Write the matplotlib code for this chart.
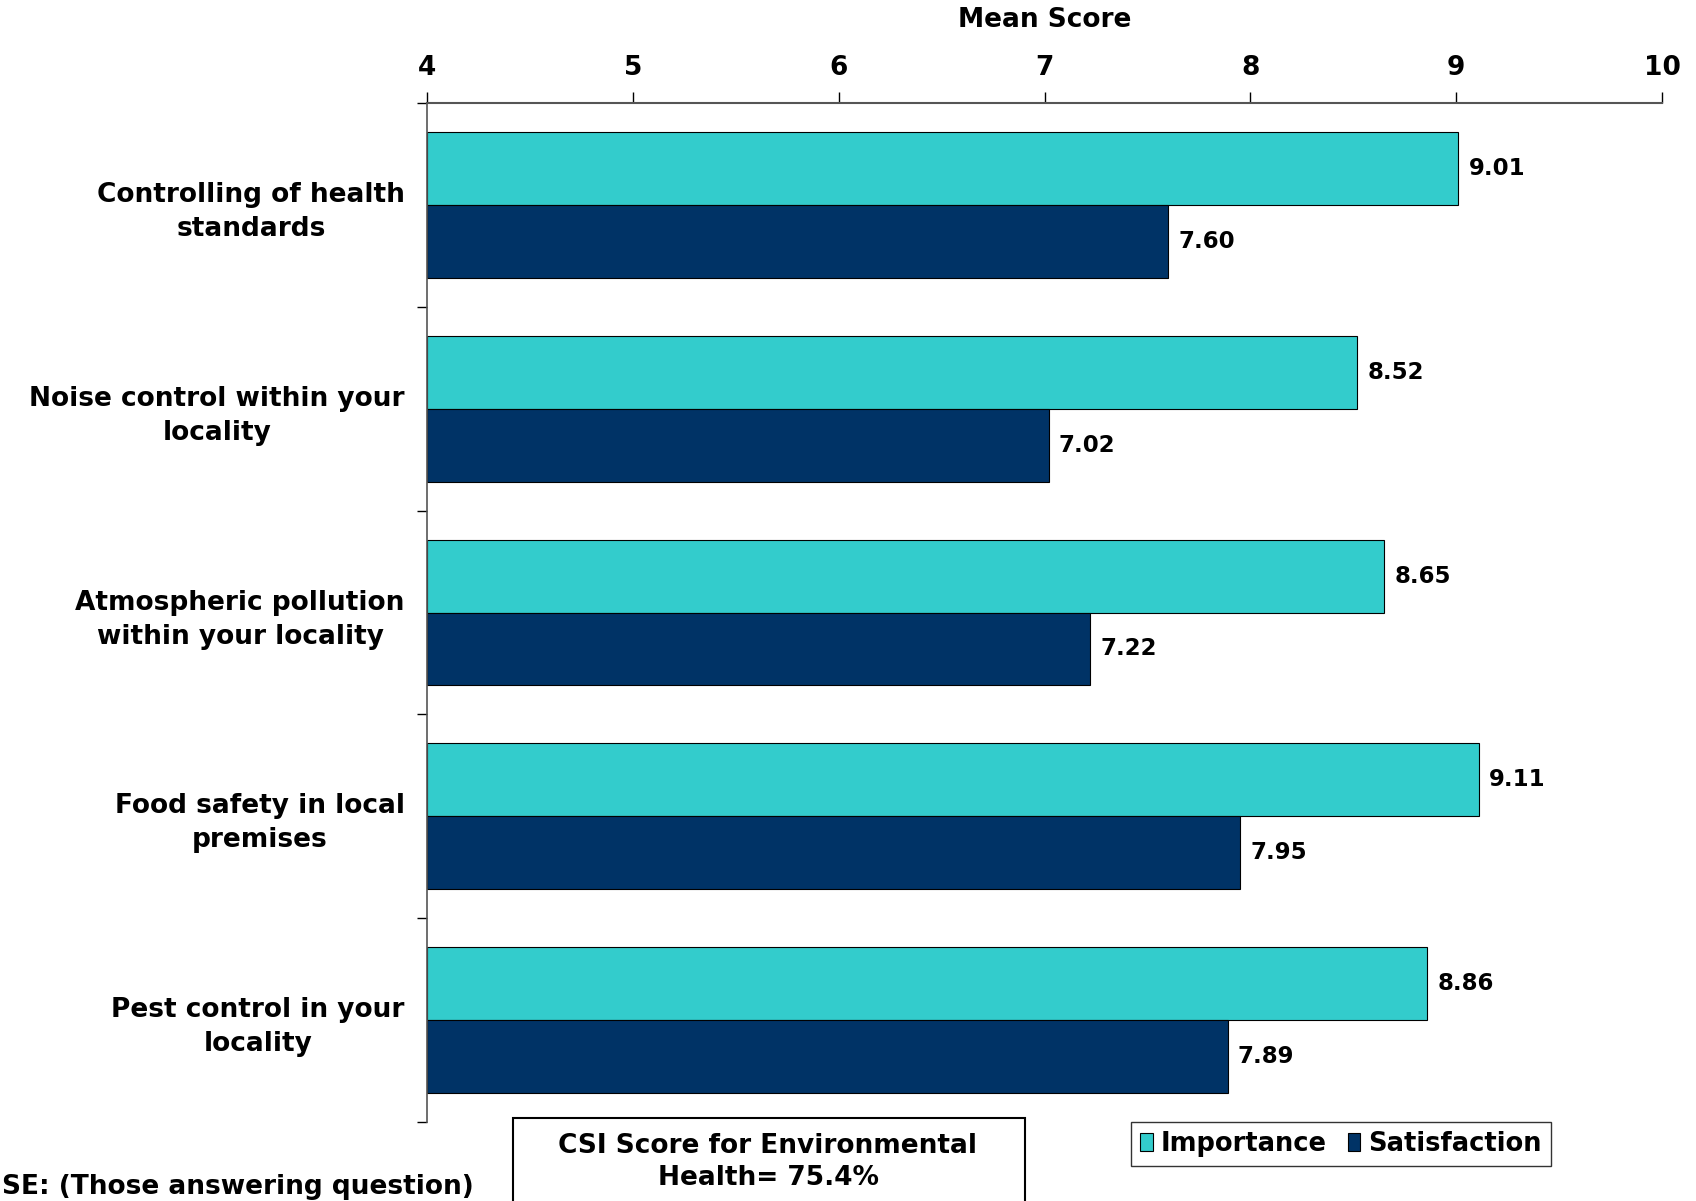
import matplotlib
matplotlib.use("Agg")
import matplotlib.pyplot as plt
from matplotlib.patches import Rectangle
import numpy as np

categories = [
    "Controlling of health\nstandards",
    "Noise control within your\nlocality",
    "Atmospheric pollution\nwithin your locality",
    "Food safety in local\npremises",
    "Pest control in your\nlocality",
]
importance = [9.01, 8.52, 8.65, 9.11, 8.86]
satisfaction = [7.60, 7.02, 7.22, 7.95, 7.89]
x_ticks = [4, 5, 6, 7, 8, 9, 10]
series_names = ["Importance", "Satisfaction"]
colors = ["#33CCCC", "#003366"]

plt.rcParams['font.family'] = ['DejaVu Sans']
plt.rcParams['font.weight'] = 'bold'

fig = plt.figure(figsize=(16.96, 12.01), dpi=100)
ax = fig.add_axes([427/1696, 1 - 1122/1201, (1662 - 427)/1696, (1122 - 103)/1201])

n = len(categories)
y = np.arange(n)
h = 0.358
base = 4
ax.barh(y - h/2, np.array(importance) - base, left=base, height=h, color=colors[0],
        edgecolor='black', linewidth=0.8, label=series_names[0])
ax.barh(y + h/2, np.array(satisfaction) - base, left=base, height=h, color=colors[1],
        edgecolor='black', linewidth=0.8, label=series_names[1])

for i in range(n):
    ax.text(importance[i] + 0.05, y[i] - h/2, f"{importance[i]:.2f}", va='center', ha='left',
            fontsize=16.5, fontweight='bold')
    ax.text(satisfaction[i] + 0.05, y[i] + h/2, f"{satisfaction[i]:.2f}", va='center', ha='left',
            fontsize=16.5, fontweight='bold')

ax.set_xlim(4, 10)
ax.set_ylim(n - 0.5, -0.5)
ax.xaxis.tick_top()
ax.xaxis.set_label_position('top')
ax.set_xticks(x_ticks)
ax.set_xticklabels([str(t) for t in x_ticks], fontsize=19, fontweight='bold')
ax.tick_params(axis='x', direction='out', length=8, width=1, pad=8, colors='black')
ax.set_xlabel("Mean Score", fontsize=19, fontweight='bold', labelpad=20)

ax.set_yticks(np.arange(-0.5, n, 1.0))
ax.set_yticklabels([])
ax.set_yticks(y, minor=True)
ax.set_yticklabels(categories, minor=True, fontsize=19, fontweight='bold', linespacing=1.4)
ax.tick_params(axis='y', which='major', direction='out', length=7, width=1)
ax.tick_params(axis='y', which='minor', length=0, pad=16)
for lab in ax.get_yticklabels(minor=True):
    lab.set_horizontalalignment('right')
    lab.set_multialignment('center')

for s in ['right', 'bottom']:
    ax.spines[s].set_visible(False)
ax.spines['top'].set_color('#555555')
ax.spines['top'].set_linewidth(1.5)
ax.spines['left'].set_color('#555555')
ax.spines['left'].set_linewidth(1.2)

# CSI box
box = Rectangle((513/1696, 1 - 1215/1201), (1025 - 513)/1696, (1215 - 1118)/1201,
                transform=fig.transFigure, fill=False, edgecolor='black', linewidth=1.5, clip_on=False)
fig.patches.append(box)
fig.text(768/1696, 1 - 1162/1201, "CSI Score for Environmental\nHealth= 75.4%", ha='center', va='center',
         fontsize=19, fontweight='bold', linespacing=1.3)

fig.text(474/1696, 1 - 1187/1201, "SE: (Those answering question)", ha='right', va='center',
         fontsize=19, fontweight='bold')

leg = fig.legend(loc='center', bbox_to_anchor=(1341/1696, 1 - 1144/1201), ncol=2, frameon=True,
                 fancybox=False, edgecolor='black', fontsize=18.5, handlelength=0.5, handleheight=0.7,
                 handletextpad=0.3, columnspacing=0.8, borderpad=0.35)
leg.get_frame().set_linewidth(1.0)

fig.savefig("out.png", dpi=100)
